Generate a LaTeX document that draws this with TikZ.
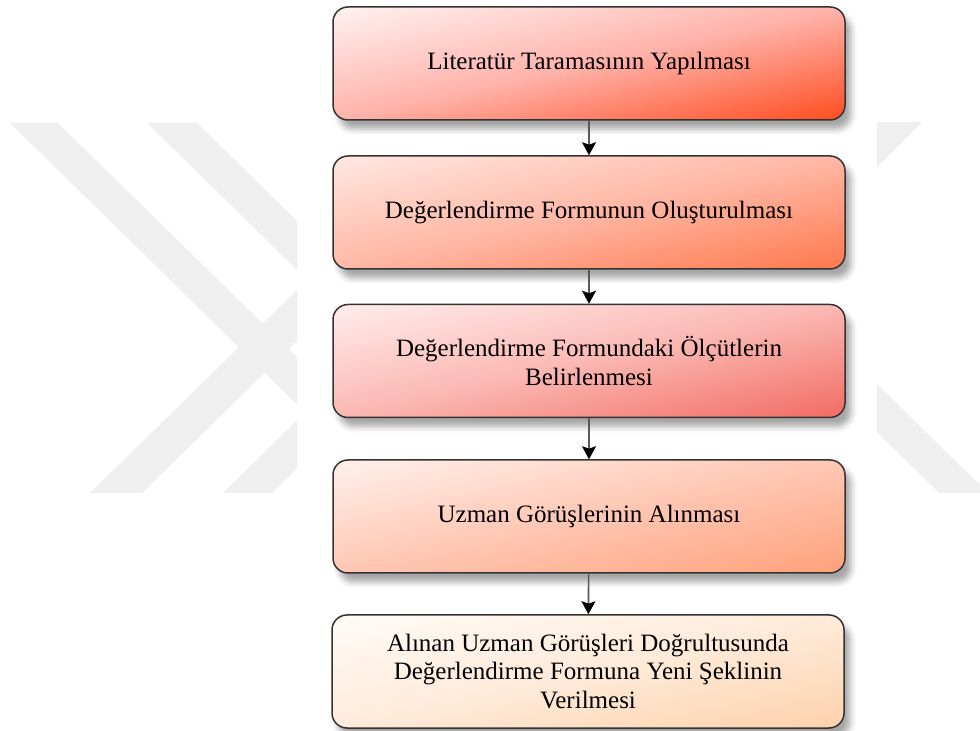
\documentclass[tikz,border=0pt]{standalone}
\usepackage{fontspec}
\setmainfont{Liberation Serif}
\usetikzlibrary{arrows.meta,shadows.blur}
\definecolor{wm}{RGB}{239,239,239}
\definecolor{aL}{rgb}{1,.95,.945}\definecolor{aM}{rgb}{1,.70,.67}\definecolor{aR}{rgb}{1,.30,.12}
\definecolor{bL}{rgb}{1,.91,.886}\definecolor{bM}{rgb}{1,.72,.65}\definecolor{bR}{rgb}{1,.47,.30}
\definecolor{cL}{rgb}{1,.93,.93}\definecolor{cM}{rgb}{.984,.72,.70}\definecolor{cR}{rgb}{.95,.42,.39}
\definecolor{dL}{rgb}{1,.945,.925}\definecolor{dM}{rgb}{1,.78,.705}\definecolor{dR}{rgb}{1,.63,.48}
\definecolor{eL}{rgb}{1,.985,.97}\definecolor{eM}{rgb}{1,.92,.855}\definecolor{eR}{rgb}{.99,.82,.67}
\newcommand\mkdiag[4]{%
 \pgfdeclarefunctionalshading{#1}{\pgfpointorigin}{\pgfpoint{100bp}{100bp}}%
 {\pgfshadecolortorgb{#2}{\cA}\pgfshadecolortorgb{#3}{\cB}\pgfshadecolortorgb{#4}{\cC}}%
 {75 exch sub exch 25 sub add 100 div
  dup 0 lt {pop 0} if dup 1 gt {pop 1} if
  dup 0.5 lt
  {2 mul
   dup \cBred\space \cAred\space sub mul \cAred\space add exch
   dup \cBgreen\space \cAgreen\space sub mul \cAgreen\space add exch
   \cBblue\space \cAblue\space sub mul \cAblue\space add}
  {0.5 sub 2 mul
   dup \cCred\space \cBred\space sub mul \cBred\space add exch
   dup \cCgreen\space \cBgreen\space sub mul \cBgreen\space add exch
   \cCblue\space \cBblue\space sub mul \cBblue\space add}
  ifelse}}
\mkdiag{shA}{aL}{aM}{aR}
\mkdiag{shB}{bL}{bM}{bR}
\mkdiag{shC}{cL}{cM}{cR}
\mkdiag{shD}{dL}{dM}{dR}
\mkdiag{shE}{eL}{eM}{eR}
\begin{document}
\begin{tikzpicture}[x=0.5pt,y=-0.5pt,
  box/.style={draw=black!80, line width=0.75pt, rounded corners=7.5pt,
    minimum width=256pt, minimum height=56.5pt, inner sep=0pt, align=center,
    font=\fontsize{12.5}{14.2}\selectfont,
    blur shadow={shadow xshift=3pt, shadow yshift=-4.5pt, shadow blur radius=3pt, shadow opacity=35}},
  grad/.style={shade, shading=#1},
  conn/.style={draw=black!65, line width=0.8pt, -{Stealth[color=black,length=6.5pt,width=7pt,inset=1.2pt]}}]
\useasboundingbox (0,0) rectangle (980,731);
% watermark
\begin{scope}
  \clip (0,123) rectangle (297,493);
  \fill[wm] (10,123) -- (58,123) -- (435.4,493) -- (387.4,493) -- cycle;
  \fill[wm] (147,123) -- (197,123) -- (574.4,493) -- (524.4,493) -- cycle;
  \fill[wm] (90,493) -- (142,493) -- (519.4,123) -- (467.4,123) -- cycle;
  \fill[wm] (223,493) -- (272,493) -- (649.4,123) -- (600.4,123) -- cycle;
\end{scope}
\begin{scope}
  \clip (877,122) rectangle (980,493);
  \fill[wm] (872,122) -- (922,122) -- (551,493) -- (501,493) -- cycle;
  \fill[wm] (561.8,123) -- (610.8,123) -- (988.2,493) -- (939.2,493) -- cycle;
\end{scope}
% boxes
\node[box, grad=shA] (b1) at (589,63.5) {Literatür Taramasının Yapılması};
\node[box, grad=shB] (b2) at (589,212.5) {Değerlendirme Formunun Oluşturulması};
\node[box, grad=shC] (b3) at (589,361) {Değerlendirme Formundaki Ölçütlerin\\Belirlenmesi};
\node[box, grad=shD] (b4) at (589,516.5) {Uzman Görüşlerinin Alınması};
\node[box, grad=shE] (b5) at (588,671.5) {Alınan Uzman Görüşleri Doğrultusunda\\Değerlendirme Formuna Yeni Şeklinin\\Verilmesi};
% connectors
\draw[conn] (b1) -- (b2);
\draw[conn] (b2) -- (b3);
\draw[conn] (b3) -- (b4);
\draw[conn] (b4) -- (b5);
\end{tikzpicture}
\end{document}
